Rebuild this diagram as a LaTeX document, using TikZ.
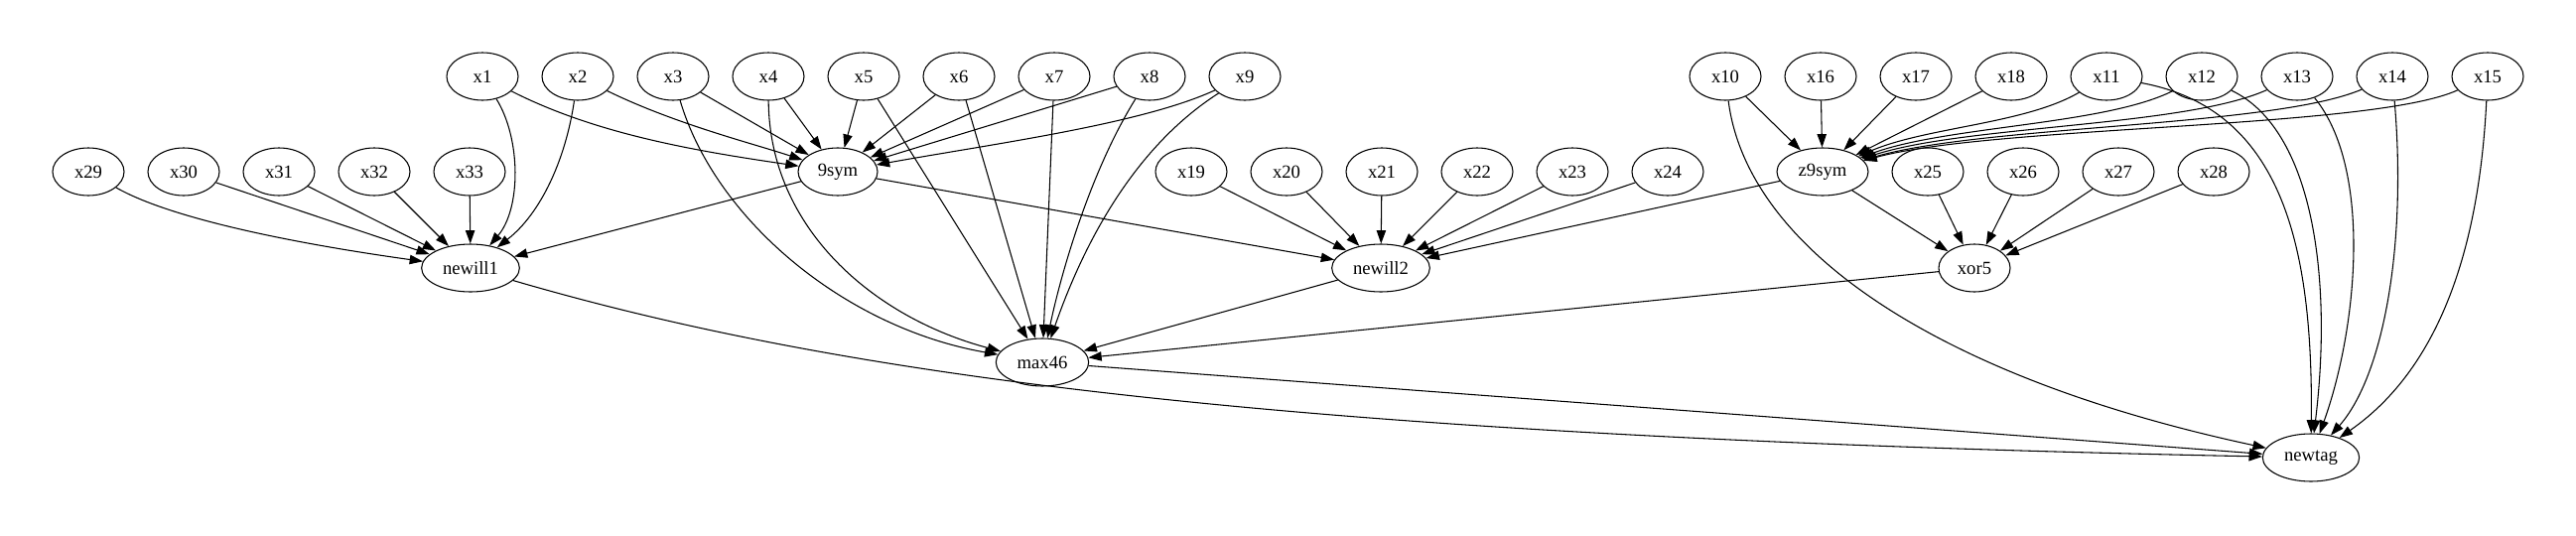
\documentclass[tikz,border=0pt]{standalone}
\usepackage{fontspec}
\setmainfont{Liberation Serif}
\usetikzlibrary{shapes.geometric,arrows.meta}
\begin{document}
\begin{tikzpicture}[x=0.75pt,y=-0.75pt,
  nd/.style={ellipse,draw,line width=0.8pt,minimum width=54pt,minimum height=36pt,inner sep=0pt,font=\fontsize{14}{16}\selectfont},
  ed/.style={draw,line width=0.8pt,-{Triangle[length=10pt,width=7pt]}}]
\fill[white] (0,0) rectangle (2595,539);
\useasboundingbox (0,0) rectangle (2595,539);
% top row
\node[nd] (x1) at (486,77) {x1};
\node[nd] (x2) at (582,77) {x2};
\node[nd] (x3) at (678,77) {x3};
\node[nd] (x4) at (774,77) {x4};
\node[nd] (x5) at (870,77) {x5};
\node[nd] (x6) at (966,77) {x6};
\node[nd] (x7) at (1062,77) {x7};
\node[nd] (x8) at (1158,77) {x8};
\node[nd] (x9) at (1254,77) {x9};
\node[nd] (x10) at (1738,77) {x10};
\node[nd] (x16) at (1834,77) {x16};
\node[nd] (x17) at (1930,77) {x17};
\node[nd] (x18) at (2026,77) {x18};
\node[nd] (x11) at (2122,77) {x11};
\node[nd] (x12) at (2218,77) {x12};
\node[nd] (x13) at (2314,77) {x13};
\node[nd] (x14) at (2410,77) {x14};
\node[nd] (x15) at (2506,77) {x15};
% second row
\node[nd] (x29) at (89,173) {x29};
\node[nd] (x30) at (185,173) {x30};
\node[nd] (x31) at (281,173) {x31};
\node[nd] (x32) at (377,173) {x32};
\node[nd] (x33) at (473,173) {x33};
\node[nd,minimum width=60pt] (s9) at (844,173) {9sym};
\node[nd] (x19) at (1200,173) {x19};
\node[nd] (x20) at (1296,173) {x20};
\node[nd] (x21) at (1392,173) {x21};
\node[nd] (x22) at (1488,173) {x22};
\node[nd] (x23) at (1584,173) {x23};
\node[nd] (x24) at (1680,173) {x24};
\node[nd,minimum width=69pt] (z9) at (1836,173) {z9sym};
\node[nd] (x25) at (1942,173) {x25};
\node[nd] (x26) at (2038,173) {x26};
\node[nd] (x27) at (2134,173) {x27};
\node[nd] (x28) at (2230,173) {x28};
% third row
\node[nd,minimum width=74pt] (n1) at (474,270) {newill1};
\node[nd,minimum width=74pt] (n2) at (1391,270) {newill2};
\node[nd] (xor) at (1989,270) {xor5};
% fourth, fifth
\node[nd,minimum width=70pt] (mx) at (1050,365) {max46};
\node[nd,minimum width=73pt] (nt) at (2328,461) {newtag};
% edges into 9sym
\draw[ed] (x1) .. controls (600,135) and (700,152) .. (s9);
\draw[ed] (x2) .. controls (680,125) and (760,145) .. (s9);
\draw[ed] (x3) -- (s9);
\draw[ed] (x4) -- (s9);
\draw[ed] (x5) -- (s9);
\draw[ed] (x6) -- (s9);
\draw[ed] (x7) -- (s9);
\draw[ed] (x8) -- (s9);
\draw[ed] (x9) .. controls (1150,125) and (1000,145) .. (s9);
% edges into newill1
\draw[ed] (x1) .. controls (525,140) and (525,210) .. (n1);
\draw[ed] (x2) .. controls (570,160) and (545,215) .. (n1);
\draw[ed] (x29) .. controls (180,225) and (330,250) .. (n1);
\draw[ed] (x30) -- (n1);
\draw[ed] (x31) -- (n1);
\draw[ed] (x32) -- (n1);
\draw[ed] (x33) -- (n1);
\draw[ed] (s9) -- (n1);
% edges into max46
\draw[ed] (x3) .. controls (720,220) and (850,330) .. (mx);
\draw[ed] (x4) .. controls (775,230) and (880,320) .. (mx);
\draw[ed] (x5) -- (mx);
\draw[ed] (x6) -- (mx);
\draw[ed] (x7) -- (mx);
\draw[ed] (x8) .. controls (1100,170) and (1070,270) .. (mx);
\draw[ed] (x9) .. controls (1140,150) and (1090,250) .. (mx);
\draw[ed] (n2) -- (mx);
\draw[ed] (xor) -- (mx);
% edges into newill2
\draw[ed] (s9) -- (n2);
\draw[ed] (x19) -- (n2);
\draw[ed] (x20) -- (n2);
\draw[ed] (x21) -- (n2);
\draw[ed] (x22) -- (n2);
\draw[ed] (x23) -- (n2);
\draw[ed] (x24) -- (n2);
\draw[ed] (z9) -- (n2);
% edges into z9sym
\draw[ed] (x10) -- (z9);
\draw[ed] (x16) -- (z9);
\draw[ed] (x17) -- (z9);
\draw[ed] (x18) -- (z9);
\draw[ed] (x11) .. controls (2040,125) and (1940,128) .. (z9);
\draw[ed] (x12) .. controls (2120,126) and (1960,127) .. (z9);
\draw[ed] (x13) .. controls (2200,128) and (1980,126) .. (z9);
\draw[ed] (x14) .. controls (2290,128) and (2000,126) .. (z9);
\draw[ed] (x15) .. controls (2390,130) and (2010,126) .. (z9);
% edges into xor5
\draw[ed] (z9) -- (xor);
\draw[ed] (x25) -- (xor);
\draw[ed] (x26) -- (xor);
\draw[ed] (x27) -- (xor);
\draw[ed] (x28) -- (xor);
% edges into newtag
\draw[ed] (n1) .. controls (850,380) and (1300,440) .. (nt);
\draw[ed] (mx) -- (nt);
\draw[ed] (x10) .. controls (1760,250) and (1950,380) .. (nt);
\draw[ed] (x11) .. controls (2300,110) and (2330,250) .. (nt);
\draw[ed] (x12) .. controls (2330,130) and (2350,280) .. (nt);
\draw[ed] (x13) .. controls (2390,170) and (2375,330) .. (nt);
\draw[ed] (x14) .. controls (2425,250) and (2400,380) .. (nt);
\draw[ed] (x15) .. controls (2495,300) and (2430,390) .. (nt);
\end{tikzpicture}
\end{document}
